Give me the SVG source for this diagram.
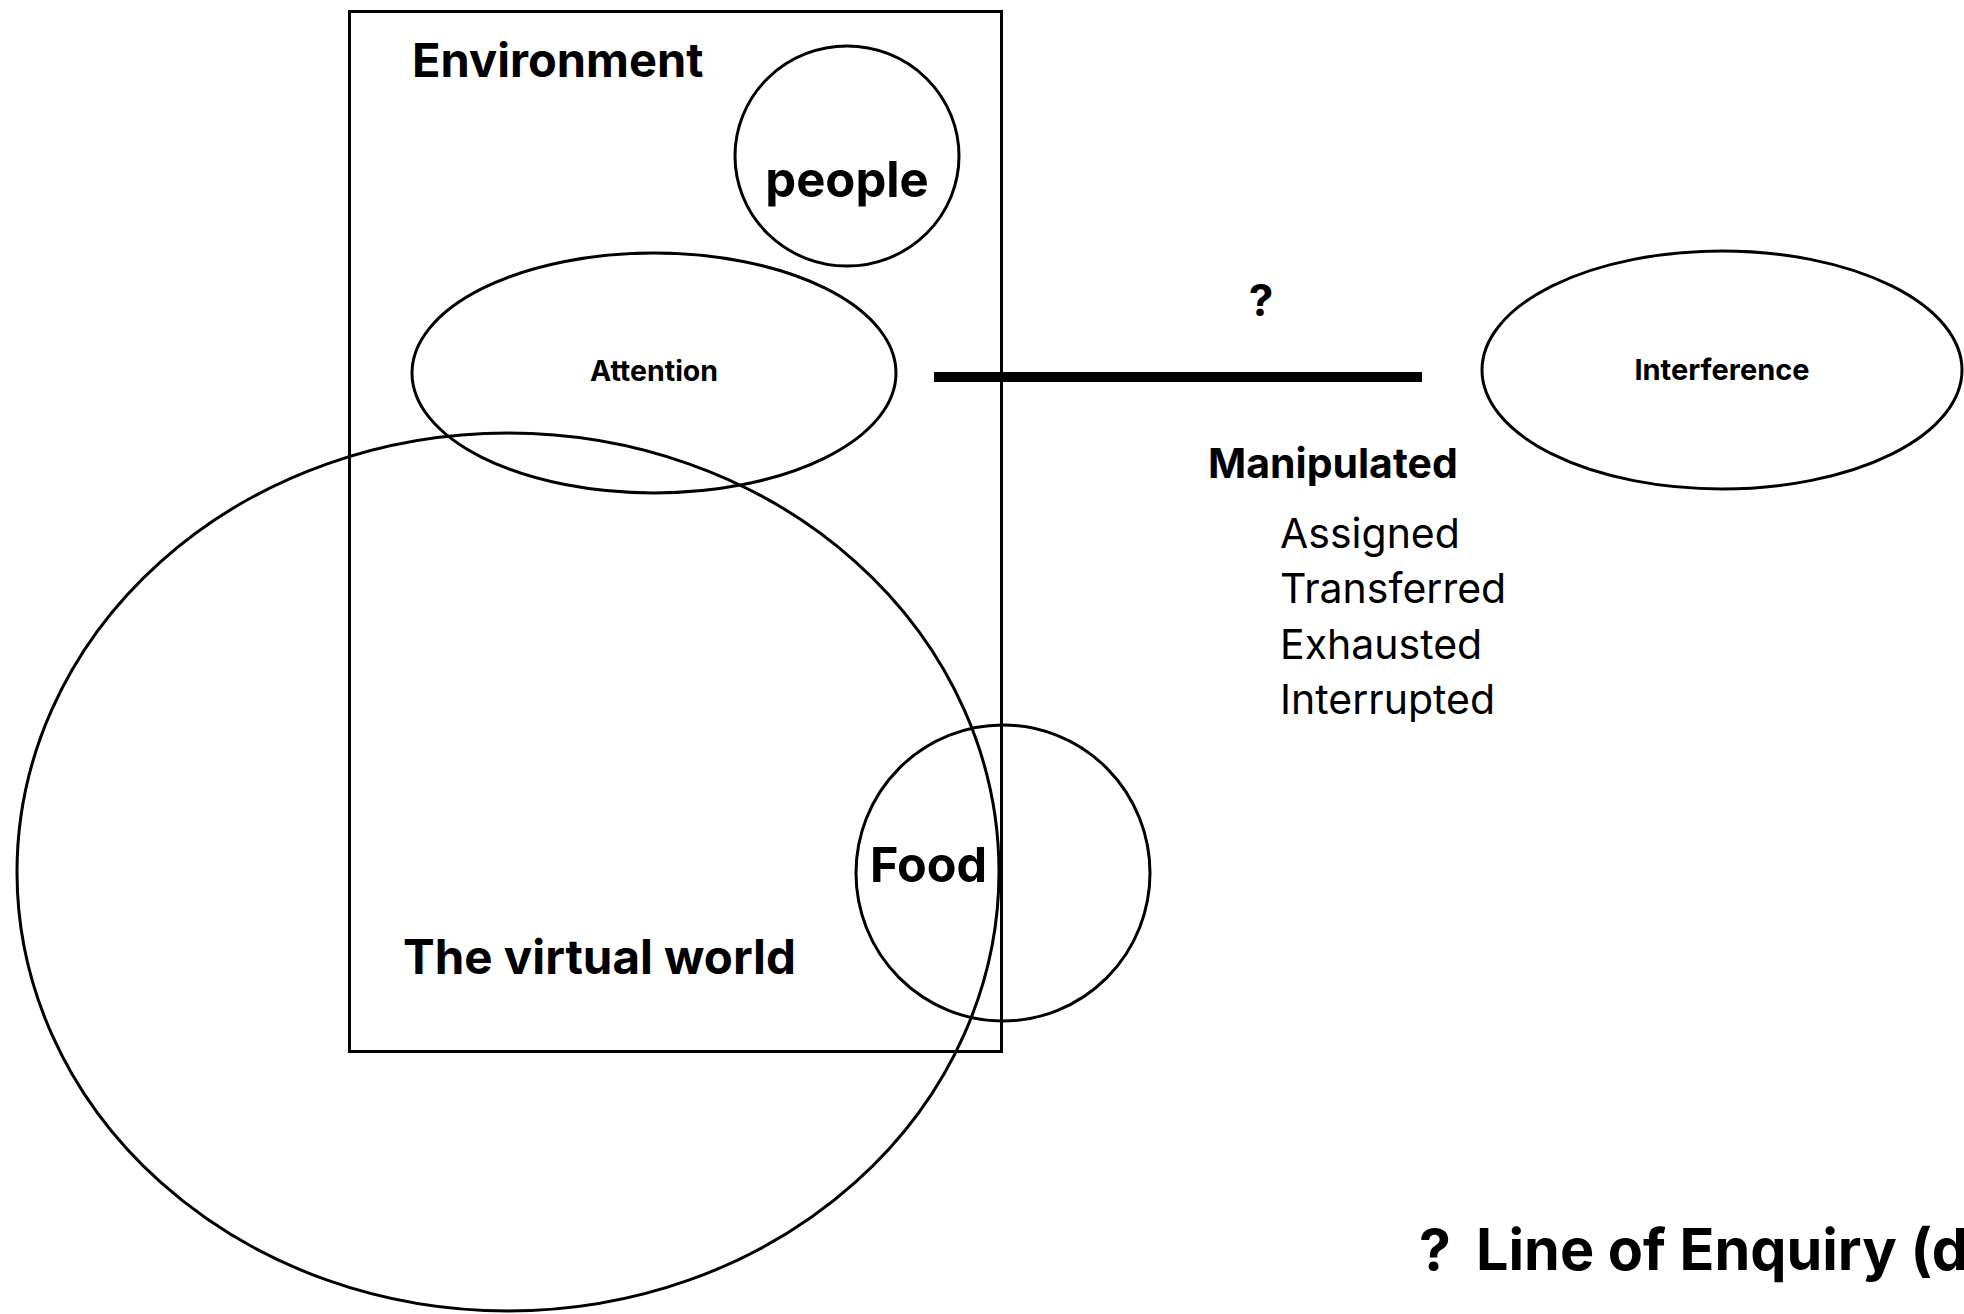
<svg xmlns="http://www.w3.org/2000/svg" width="1964" height="1314" viewBox="0 0 1964 1314">
  <style>
    .shape { fill: none; stroke: #000; stroke-width: 3; }
    .thin { fill: none; stroke: #000; stroke-width: 3; }
    .lbl { font-family: Inter, "Liberation Sans", sans-serif; font-weight: 700; fill: #000; }
    .item { font-family: Inter, "Liberation Sans", sans-serif; font-weight: 400; fill: #000; font-size: 41px; }
  </style>
  <rect width="1964" height="1314" fill="#fff"/>

  <!-- Environment frame -->
  <g id="environment">
    <rect class="shape" x="349.5" y="11.5" width="652" height="1040"/>
    <text class="lbl" x="412" y="77" font-size="47">Environment</text>
  </g>

  <!-- people -->
  <g id="people">
    <ellipse class="shape" cx="847" cy="156" rx="112" ry="110"/>
    <text class="lbl" x="847" y="197" font-size="49" text-anchor="middle">people</text>
  </g>

  <!-- Attention -->
  <g id="attention">
    <ellipse class="shape" cx="654" cy="373" rx="242" ry="120"/>
    <text class="lbl" x="654" y="381" font-size="28.5" text-anchor="middle">Attention</text>
  </g>

  <!-- The virtual world -->
  <g id="virtual-world">
    <ellipse class="thin" cx="508" cy="872" rx="491" ry="439"/>
    <text class="lbl" x="403" y="974" font-size="47.5">The virtual world</text>
  </g>

  <!-- Food -->
  <g id="food">
    <ellipse class="thin" cx="1003" cy="873" rx="147" ry="148"/>
    <text class="lbl" x="870" y="882" font-size="48.5">Food</text>
  </g>

  <!-- Interference -->
  <g id="interference">
    <ellipse class="shape" cx="1722" cy="370" rx="240" ry="119"/>
    <text class="lbl" x="1722" y="380" font-size="29" text-anchor="middle">Interference</text>
  </g>

  <!-- link between Attention and Interference -->
  <g id="connectors">
    <line x1="934" y1="377" x2="1422" y2="377" stroke="#000" stroke-width="10"/>
    <text class="lbl" x="1261" y="316" font-size="44" text-anchor="middle">?</text>
  </g>

  <!-- ways attention is manipulated -->
  <g id="manipulated">
    <text class="lbl" x="1208" y="478" font-size="41">Manipulated</text>
    <text class="item" x="1280" y="548">Assigned</text>
    <text class="item" x="1280" y="603">Transferred</text>
    <text class="item" x="1280" y="659">Exhausted</text>
    <text class="item" x="1280" y="714">Interrupted</text>
  </g>

  <!-- legend -->
  <g id="legend">
    <text class="lbl" x="1419" y="1270" font-size="57">?</text>
    <text class="lbl" x="1476" y="1270" font-size="57.5">Line of Enquiry (d</text>
  </g>
</svg>
